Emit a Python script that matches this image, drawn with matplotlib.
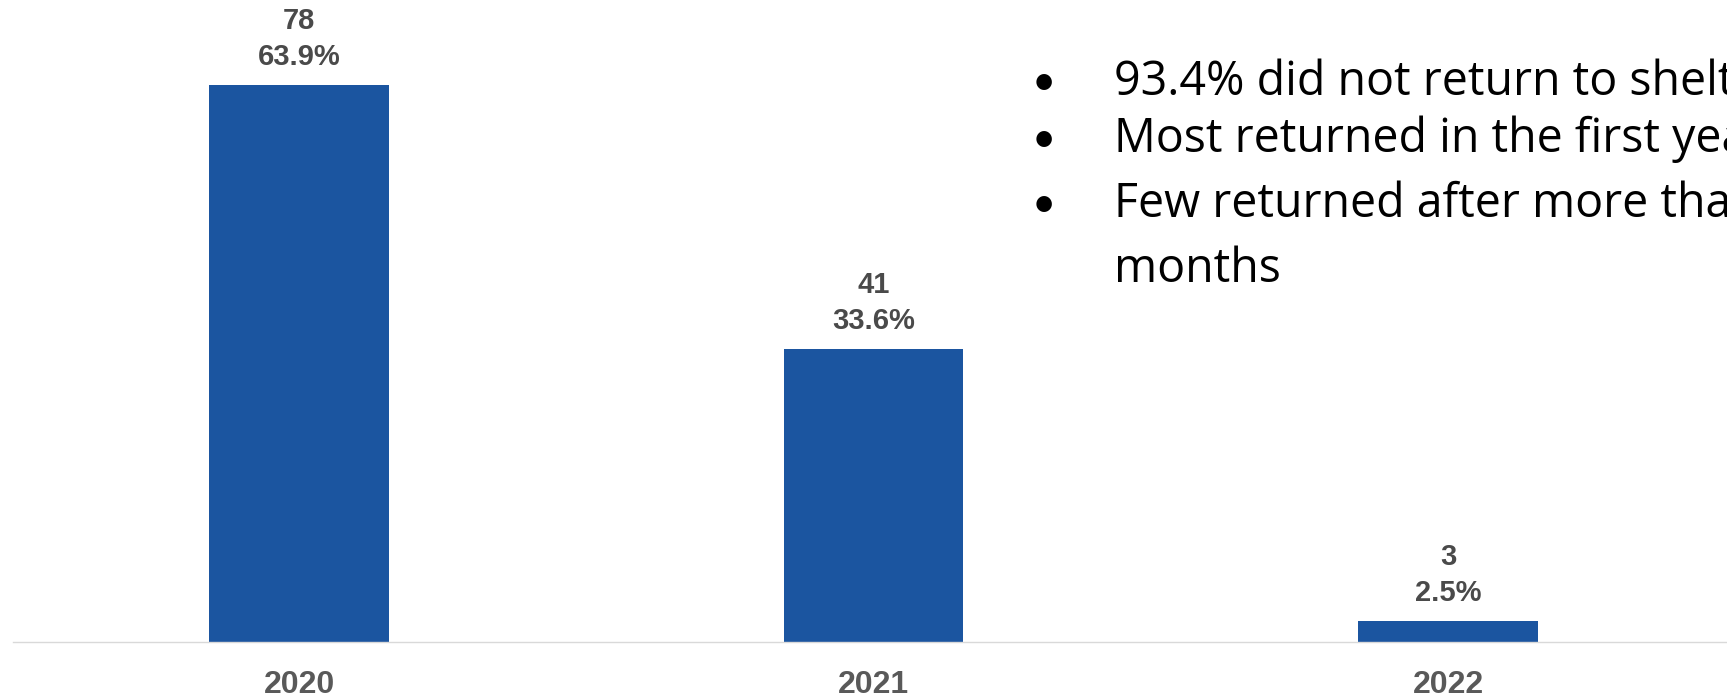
import matplotlib
matplotlib.use("Agg")
import matplotlib.pyplot as plt

years = ["2020", "2021", "2022"]
counts = [78, 41, 3]
percents = ["63.9%", "33.6%", "2.5%"]
bullets = [
    "93.4% did not return to shelter",
    "Most returned in the first year",
    "Few returned after more than 12",
    "months",
]

W, H = 1727, 699
fig = plt.figure(figsize=(W / 100, H / 100), dpi=100)
ax = fig.add_axes([13 / W, 57 / H, 1 - 13 / W, 1 - 57 / H])

bar_color = "#1B55A0"
x = list(range(len(years)))
ax.bar(x, counts, width=0.313, color=bar_color, zorder=2)
ax.set_xlim(-0.498, 2.4855)
ax.set_ylim(0, 89.9)

label_color = "#4a4a4a"
for xi, c, p in zip(x, counts, percents):
    ax.annotate(p, (xi, c), xytext=(0, 28), textcoords="offset pixels",
                ha="center", va="center", fontsize=21, fontweight="bold",
                color=label_color, family="Liberation Sans")
    ax.annotate(str(c), (xi, c), xytext=(0, 64), textcoords="offset pixels",
                ha="center", va="center", fontsize=21, fontweight="bold",
                color=label_color, family="Liberation Sans")

for s in ["top", "right", "left"]:
    ax.spines[s].set_visible(False)
ax.spines["bottom"].set_color("#d9d9d9")
ax.spines["bottom"].set_linewidth(1.0)
ax.set_yticks([])
ax.set_xticks(x)
ax.set_xticklabels(years, fontsize=23, fontweight="bold", color="#595959",
                   family="Liberation Sans")
ax.tick_params(axis="x", length=0, pad=20)

# Bullet text (runs past the right edge, as in the original slide)
baselines = [95, 152, 217, 282]
for i, (t, yb) in enumerate(zip(bullets, baselines)):
    yf = 1 - yb / H
    if i < 3:
        fig.text(1044 / W, yf, "•", ha="center", va="baseline", fontsize=30,
                 color="black", family="Lato")
    fig.text(1114 / W, yf, t, ha="left", va="baseline", fontsize=33.5,
             color="black", family="Open Sans")

fig.savefig("out.png", dpi=100)
